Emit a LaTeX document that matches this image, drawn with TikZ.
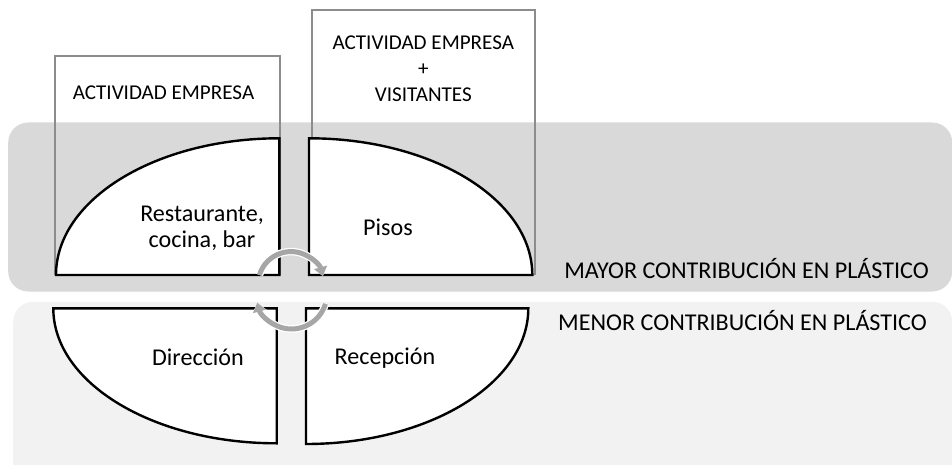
\documentclass[tikz,border=0pt]{standalone}
\usepackage{fontspec}
\setmainfont{Carlito}
\usetikzlibrary{arrows.meta}
\definecolor{bandD}{HTML}{D9D9D9}
\definecolor{bandL}{HTML}{F2F2F2}
\definecolor{boxgray}{HTML}{8C8C8C}
\definecolor{arrgray}{HTML}{A6A6A6}
\newcommand\fontBox{\fontsize{21.1}{26.2}\selectfont}
\newcommand\fontBig{\fontsize{24.1}{25.6}\selectfont}
\begin{document}
\begin{tikzpicture}[x=1pt,y=1pt,
  band/.style={draw=none,rounded corners=20pt,inner sep=0pt,anchor=south west},
  boxst/.style={draw=boxgray,line width=2pt,inner sep=0pt,anchor=south west},
  shapest/.style={draw=black,fill=white,line width=2.4pt,line join=miter},
  lbl/.style={anchor=base,inner sep=0pt,text=black},
  arrw/.style={draw=arrgray,line width=5pt,-{Triangle[length=9pt,width=13pt]}},
  arrwbg/.style={draw=white,line width=7.5pt,-{Triangle[length=11pt,width=16.5pt]}}]
\useasboundingbox (0,0) rectangle (952,464);
\begin{scope}
\clip (0,0) rectangle (952,464);
% bands
\node[band,fill=bandD,minimum width=944pt,minimum height=169pt] (bandhi) at (8,172.3) {};
\node[band,fill=bandL,minimum width=939pt,minimum height=182pt] (bandlo) at (13,-20) {};
% boxes
\node[boxst,minimum width=225pt,minimum height=218.3pt] (boxL) at (54.3,189) {};
\node[boxst,minimum width=223.6pt,minimum height=264pt] (boxR) at (310.7,189) {};
% quarter shapes
\draw[shapest] (279.3,189) -- (56,189) arc[start angle=180,end angle=90,x radius=223.3,y radius=136.7] -- cycle;
\draw[shapest] (309,189) -- (309,325.7) arc[start angle=90,end angle=0,x radius=223.3,y radius=136.7] -- cycle;
\draw[shapest] (276.7,155.7) -- (53.3,155.7) arc[start angle=180,end angle=270,x radius=223.4,y radius=135] -- cycle;
\draw[shapest] (306,155.7) -- (528.3,155.7) arc[start angle=0,end angle=-90,x radius=222.3,y radius=135.7] -- cycle;
% labels
\node[lbl,font=\fontBox] (tL) at (163.5,364) {ACTIVIDAD EMPRESA};
\node[lbl,font=\fontBox] (tR) at (423.3,414.7) {\vtop{\halign{\hfil#\hfil\cr ACTIVIDAD EMPRESA\cr +\cr VISITANTES\cr}}};
\node[lbl,font=\fontBig] (tRest) at (202,242.3) {\vtop{\halign{\hfil#\hfil\cr Restaurante,\cr cocina, bar\cr}}};
\node[lbl,font=\fontBig] (tPisos) at (388,229) {Pisos};
\node[lbl,font=\fontBig] (tDir) at (198,99) {Dirección};
\node[lbl,font=\fontBig] (tRec) at (385,100) {Recepción};
\node[lbl,font=\fontBig] (tMay) at (746.5,185.7) {MAYOR CONTRIBUCIÓN EN PLÁSTICO};
\node[lbl,font=\fontBig] (tMen) at (742.5,133.3) {MENOR CONTRIBUCIÓN EN PLÁSTICO};
% circular arrows
\coordinate (cU) at (291,179.4);
\coordinate (cD) at (291.5,170.5);
\draw[arrwbg] ([shift={(163:33)}]cU) arc[start angle=163,end angle=15,radius=33];
\draw[arrw] ([shift={(163:33)}]cU) arc[start angle=163,end angle=15,radius=33];
\draw[arrwbg] ([shift={(-17:35.5)}]cD) arc[start angle=-17,end angle=-165,radius=35.5];
\draw[arrw] ([shift={(-17:35.5)}]cD) arc[start angle=-17,end angle=-165,radius=35.5];
\end{scope}
\end{tikzpicture}
\end{document}
